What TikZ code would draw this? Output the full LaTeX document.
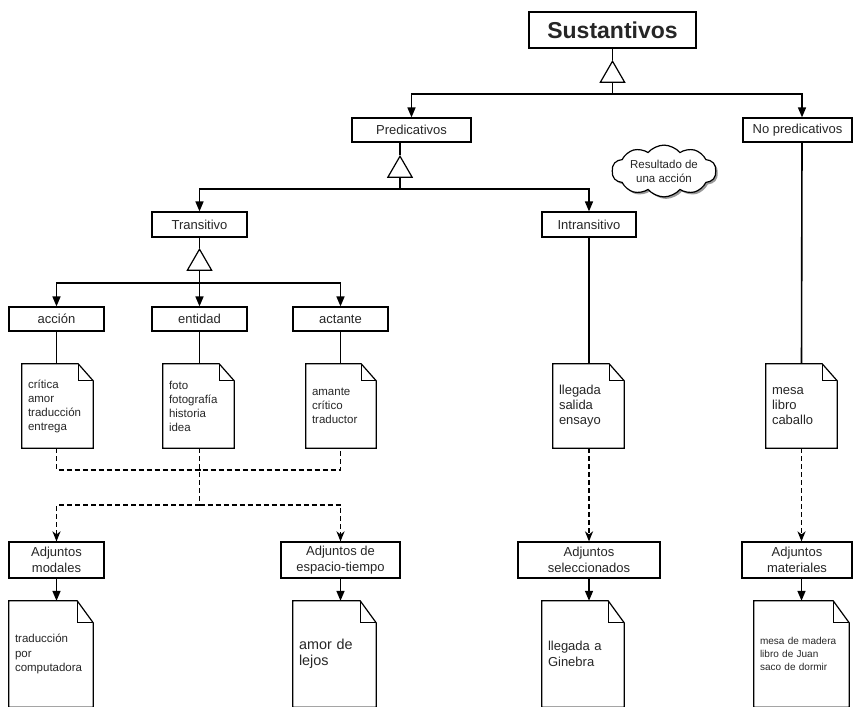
\documentclass[tikz,border=0pt]{standalone}
\usepackage{fontspec}
\setmainfont{Liberation Sans}
\usetikzlibrary{shapes.geometric, shapes.symbols, arrows.meta, shadows, calc}

\begin{document}
\begin{tikzpicture}[x=1pt, y=-1pt,
  every node/.style={text=black!85},
  box/.style={draw, line width=1.2pt, inner sep=0pt, align=center, fill=white,
    font=\fontsize{13}{15.5}\selectfont,
    drop shadow={shadow xshift=1pt, shadow yshift=-1pt, opacity=.35, fill=black}},
  note/.style={inner xsep=6pt, inner ysep=0pt, align=left},
  gen/.style={draw, regular polygon, regular polygon sides=3, minimum size=28pt,
    inner sep=0pt, line width=1.2pt, fill=white, anchor=north},
  link/.style={line width=1.6pt},
  dline/.style={line width=1.6pt, dash pattern=on 5pt off 3pt},
  tri/.style={-{Triangle[length=10pt, width=8pt]}},
  stl/.style={-{Stealth[length=10pt, width=8pt, inset=3pt]}}]
  \useasboundingbox (0,0) rectangle (853,706);
  % boxes
  \path (612.5,30) node[box, minimum width=167pt, minimum height=36pt,
      font=\fontsize{23}{27}\bfseries] (sust) {Sustantivos}
    (411.5,130) node[box, minimum width=119pt, minimum height=24pt] (pred) {Predicativos}
    (797.5,130) node[box, minimum width=109pt, minimum height=24pt] (nopred) {No predicativos}
    (199.5,224.5) node[box, minimum width=95pt, minimum height=25pt] (trans) {Transitivo}
    (589,224.5) node[box, minimum width=94pt, minimum height=25pt] (intrans) {Intransitivo}
    (56.5,319) node[box, minimum width=95pt, minimum height=24pt] (accion) {acción}
    (199.5,319) node[box, minimum width=95pt, minimum height=24pt] (entidad) {entidad}
    (340.5,319) node[box, minimum width=95pt, minimum height=24pt] (actante) {actante}
    (56.5,560) node[box, minimum width=95pt, minimum height=36pt] (adjmod) {Adjuntos\\modales}
    (340.5,560) node[box, minimum width=119pt, minimum height=36pt] (adjesp) {Adjuntos de\\espacio-tiempo}
    (589,560) node[box, minimum width=142pt, minimum height=36pt] (adjsel) {Adjuntos\\seleccionados}
    (797,560) node[box, minimum width=110pt, minimum height=36pt] (adjmat) {Adjuntos\\materiales};
  % notes
  \path[every node/.append style={note, minimum height=84pt, font=\fontsize{11.5}{14}\selectfont}]
    (57.5,406) node[text width=59pt] (nacc) {crítica\\amor\\traducción\\entrega}
    (198.5,406) node[text width=59pt] (nent) {foto\\fotografía\\historia\\idea}
    (341,406) node[text width=58pt] (nact) {amante\\crítico\\traductor}
    (588.5,406) node[text width=59pt, font=\fontsize{13}{15}\selectfont] (nint) {llegada\\salida\\ensayo}
    (801.5,406) node[text width=59pt, font=\fontsize{13}{15}\selectfont] (nnop) {mesa\\libro\\caballo};
  \path[every node/.append style={note, minimum height=106pt}]
    (51,654) node[text width=72pt, font=\fontsize{11.5}{14.5}\selectfont] (nmod) {traducción\\por\\computadora}
    (334.5,654) node[text width=71pt, font=\fontsize{14.4}{16.5}\selectfont] (nesp) {amor de\\lejos}
    (583,654) node[text width=70pt, font=\fontsize{13}{16}\selectfont] (nsel) {llegada a\\Ginebra}
    (801.5,654) node[text width=83pt, font=\fontsize{10}{13.3}\selectfont] (nmat) {mesa de madera\\libro de Juan\\saco de dormir};
  \foreach \n/\f/\g in {nacc/15/17, nent/15/17, nact/15/17, nint/15/17, nnop/15/17,
      nmod/16/22, nesp/16/22, nsel/16/22, nmat/16/22} {
    \draw[line width=1.2pt] (\n.north west) -- ([xshift=-\f]\n.north east)
      -- ([yshift=-\g]\n.north east) -- (\n.south east) -- (\n.south west) -- cycle;
    \draw[line width=1.2pt] ([xshift=-\f]\n.north east) |- ([yshift=-\g]\n.north east);
  }
  % cloud
  \node[cloud, cloud puffs=10, cloud puff arc=100, aspect=2.4, draw, line width=1.2pt,
    minimum width=104pt, minimum height=48pt, inner sep=0pt, fill=white,
    drop shadow={shadow xshift=2pt, shadow yshift=-2pt, opacity=.4, fill=black},
    font=\fontsize{11.5}{14}\selectfont, align=center] (res) at (664,171) {Resultado de\\una acción};
  % generalizations
  \node[gen] (g1) at (612.5,60) {};
  \node[gen] (g2) at (400,155) {};
  \node[gen] (g3) at (199.5,248) {};
  \coordinate (b1) at (612.5,94);
  \coordinate (b2) at (400,189);
  \coordinate (b3) at (199.5,283);
  \draw[link] (sust) -- (g1.north);
  \draw[link] (g1.south) -- (b1);
  \draw[link, tri] (b1) -| (pred.north);
  \draw[link, tri] (b1) -| ([xshift=4.5pt]nopred.north);
  \draw[link] (pred.south -| g2.north) -- (g2.north);
  \draw[link] (g2.south) -- (b2);
  \draw[link, tri] (b2) -| (trans.north);
  \draw[link, tri] (b2) -| (intrans.north);
  \draw[link] (trans) -- (g3.north);
  \draw[link] (g3.south) -- (b3);
  \draw[link, tri] (b3) -| (accion.north);
  \draw[link, tri] (b3) -- (entidad.north);
  \draw[link, tri] (b3) -| (actante.north);
  % boxes to notes
  \foreach \a/\b in {accion/nacc, entidad/nent, actante/nact, intrans/nint}
    \draw[link] (\a) -- (\a |- \b.north);
  \draw[link] ([xshift=4.5pt]nopred.south) -- (nnop.north);
  \foreach \a/\b in {adjmod/nmod, adjesp/nesp, adjsel/nsel}
    \draw[link, tri] (\a) -- (\a |- \b.north);
  \draw[link, tri] ([xshift=4.5pt]adjmat.south) -- (nmat.north);
  % adjuncts
  \coordinate (d1) at (199.5,470);
  \coordinate (d2) at (199.5,505);
  \draw[dline] (accion |- nacc.south) |- (d1) -| (actante |- nact.south);
  \draw[dline] (entidad |- nent.south) -- (d2);
  \draw[dline, stl] (d2) -| (adjmod.north);
  \draw[dline, stl] (d2) -| (adjesp.north);
  \draw[dline, stl] (intrans |- nint.south) -- (adjsel.north);
  \draw[dline, stl] (nnop.south) -- (nnop.south |- adjmat.north);
\end{tikzpicture}
\end{document}
